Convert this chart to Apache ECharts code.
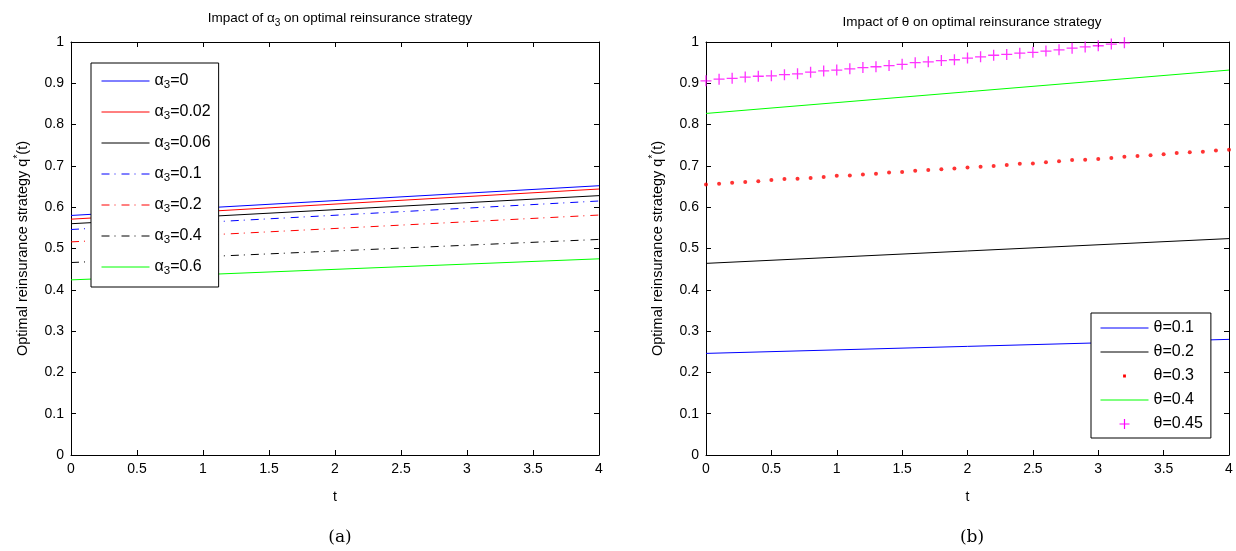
<!DOCTYPE html>
<html>
<head>
<meta charset="utf-8">
<script src="https://cdn.jsdelivr.net/npm/echarts@6/dist/echarts.min.js"></script>
<style>html,body{margin:0;padding:0;background:#fff}#c{width:1236px;height:551px}</style>
</head>
<body>
<div id="c"></div>
<script>
// ---- data ----
const tEnds = [0, 4];
const alphaNames = ['α{sub|3}=0', 'α{sub|3}=0.02', 'α{sub|3}=0.06', 'α{sub|3}=0.1', 'α{sub|3}=0.2', 'α{sub|3}=0.4', 'α{sub|3}=0.6'];
const alpha0   = [0.580, 0.652];
const alpha002 = [0.571, 0.644];
const alpha006 = [0.560, 0.628];
const alpha01  = [0.546, 0.615];
const alpha02  = [0.516, 0.581];
const alpha04  = [0.466, 0.522];
const alpha06  = [0.424, 0.475];

const thetaNames = ['θ=0.1', 'θ=0.2', 'θ=0.3', 'θ=0.4', 'θ=0.45'];
const theta01 = [0.246, 0.280];
const theta02 = [0.464, 0.524];
const theta04 = [0.827, 0.932];
const tDots = [0,0.1,0.2,0.3,0.4,0.5,0.6,0.7,0.8,0.9,1,1.1,1.2,1.3,1.4,1.5,1.6,1.7,1.8,1.9,2,
  2.1,2.2,2.3,2.4,2.5,2.6,2.7,2.8,2.9,3,3.1,3.2,3.3,3.4,3.5,3.6,3.7,3.8,3.9,4];
const theta03 = [0.655,0.657,0.659,0.661,0.663,0.666,0.668,0.669,0.671,0.673,0.676,0.677,0.679,0.681,0.684,0.685,0.688,0.690,0.692,0.694,0.696,
  0.698,0.700,0.702,0.705,0.706,0.709,0.711,0.714,0.715,0.717,0.719,0.722,0.724,0.726,0.728,0.731,0.733,0.734,0.737,0.739];
const tCross = [0,0.1,0.2,0.3,0.4,0.5,0.6,0.7,0.8,0.9,1,1.1,1.2,1.3,1.4,1.5,1.6,1.7,1.8,1.9,2,2.1,2.2,2.3,2.4,2.5,2.6,2.7,2.8,2.9,3,3.1,3.2];
const theta045 = [0.906,0.910,0.912,0.915,0.917,0.918,0.921,0.923,0.927,0.930,0.932,0.935,0.938,0.940,0.943,0.946,
  0.950,0.952,0.955,0.957,0.961,0.964,0.968,0.970,0.973,0.975,0.978,0.981,0.985,0.988,0.991,0.995,0.998];
const xTicks = {min: 0, max: 4, interval: 0.5};
const yTicks = {min: 0, max: 1, interval: 0.1};

// ---- helpers ----
const FONT = 'Liberation Sans';
const pair = (xs, ys) => xs.map((x, i) => [x, ys[i]]);
const DASHDOT = [8, 5, 1, 6];
const CROSS = 'path://M4.4,0H5.6V4.4H10V5.6H5.6V10H4.4V5.6H0V4.4H4.4Z';
const DOT_ICON = 'path://M0,0L0.01,0L0,0.01Z M48,14L47.99,14L48,13.99Z M22.6,5.6H25.4V8.4H22.6Z';
const CROSS_ICON = 'path://M0,0L0.01,0L0,0.01Z M48,14L47.99,14L48,13.99Z M23.4,2H24.6V6.4H29V7.6H24.6V12H23.4V7.6H19V6.4H23.4Z';

function xAx(grid, pos) {
  const bottom = pos === 'bottom';
  return Object.assign({
    type: 'value', gridIndex: grid, position: pos,
    name: bottom ? 't' : '', nameLocation: 'middle', nameGap: 35,
    nameTextStyle: {fontFamily: FONT, fontSize: 14, color: '#000'},
    axisLine: {show: true, onZero: false, lineStyle: {color: '#000', width: 1}},
    axisTick: {show: true, inside: true, length: 5, lineStyle: {color: '#000'}},
    axisLabel: {show: bottom, fontFamily: FONT, fontSize: 14, color: '#000', margin: 7},
    splitLine: {show: false}
  }, xTicks);
}
function yAx(grid, pos) {
  const left = pos === 'left';
  return Object.assign({
    type: 'value', gridIndex: grid, position: pos,
    name: left ? 'Optimal reinsurance strategy q{sup|*}(t)' : '', nameLocation: 'middle', nameGap: 38, nameRotate: 90,
    nameTextStyle: {fontFamily: FONT, fontSize: 14.5, color: '#000', lineHeight: 20,
      rich: {sup: {fontFamily: FONT, fontSize: 10, lineHeight: 8, verticalAlign: 'top', color: '#000'}}},
    axisLine: {show: true, onZero: false, lineStyle: {color: '#000', width: 1}},
    axisTick: {show: true, inside: true, length: 5, lineStyle: {color: '#000'}},
    axisLabel: {show: left, fontFamily: FONT, fontSize: 14, color: '#000', margin: 7},
    splitLine: {show: false}
  }, yTicks);
}
function lineS(name, data, color, type, xi, yi) {
  return {type: 'line', name: name, xAxisIndex: xi, yAxisIndex: yi, data: pair(tEnds, data),
    symbol: 'none', showSymbol: false, silent: true, animation: false,
    lineStyle: {color: color, width: 1, type: type}, itemStyle: {color: color}};
}

const subRich = {sub: {fontFamily: FONT, fontSize: 11.5, lineHeight: 8, verticalAlign: 'bottom', color: '#000'}};

const option = {
  animation: false,
  backgroundColor: '#fff',
  title: [
    {text: 'Impact of α{sub|3} on optimal reinsurance strategy', left: 335, top: 3, textAlign: 'center',
      textStyle: {fontFamily: FONT, fontSize: 13.5, fontWeight: 'normal', color: '#000', lineHeight: 20,
        rich: {sub: {fontFamily: FONT, fontSize: 10, lineHeight: 8, verticalAlign: 'bottom', color: '#000'}}}},
    {text: 'Impact of θ on optimal reinsurance strategy', left: 967, top: 9, textAlign: 'center',
      textStyle: {fontFamily: FONT, fontSize: 13.5, fontWeight: 'normal', color: '#000', lineHeight: 16}},
    {text: '(a)', left: 335, top: 524, textAlign: 'center',
      textStyle: {fontFamily: 'DejaVu Serif', fontSize: 17, fontWeight: 'normal', color: '#000'}},
    {text: '(b)', left: 967, top: 524, textAlign: 'center',
      textStyle: {fontFamily: 'DejaVu Serif', fontSize: 17, fontWeight: 'normal', color: '#000'}}
  ],
  grid: [
    {left: 71, right: 637, top: 42, bottom: 96},
    {left: 706, right: 7, top: 42, bottom: 96}
  ],
  xAxis: [xAx(0, 'bottom'), xAx(0, 'top'), xAx(1, 'bottom'), xAx(1, 'top')],
  yAxis: [yAx(0, 'left'), yAx(0, 'right'), yAx(1, 'left'), yAx(1, 'right')],
  legend: [
    {orient: 'vertical', left: 91, top: 63, itemWidth: 48, itemHeight: 14, itemGap: 11,
      padding: [8, 8, 10, 10], borderColor: '#000', borderWidth: 1, backgroundColor: '#fff',
      selectedMode: false, data: alphaNames, itemStyle: {opacity: 0}, lineStyle: {width: 1},
      textStyle: {fontFamily: FONT, fontSize: 16, color: '#000', lineHeight: 20, rich: subRich}},
    {orient: 'vertical', left: 1091, top: 313, itemWidth: 48, itemHeight: 14, itemGap: 6,
      padding: [6, 8, 5, 9], borderColor: '#000', borderWidth: 1, backgroundColor: '#fff',
      selectedMode: false, itemStyle: {opacity: 0}, lineStyle: {width: 1},
      data: [
        {name: thetaNames[0]}, {name: thetaNames[1]},
        {name: thetaNames[2], icon: DOT_ICON, itemStyle: {color: '#ff0000', borderWidth: 0, opacity: 1}},
        {name: thetaNames[3]},
        {name: thetaNames[4], icon: CROSS_ICON, itemStyle: {color: '#ff00ff', borderWidth: 0, opacity: 1}}
      ],
      textStyle: {fontFamily: FONT, fontSize: 16, color: '#000', lineHeight: 18}}
  ],
  series: [
    lineS(alphaNames[0], alpha0, '#0000ff', 'solid', 0, 0),
    lineS(alphaNames[1], alpha002, '#ff0000', 'solid', 0, 0),
    lineS(alphaNames[2], alpha006, '#000000', 'solid', 0, 0),
    lineS(alphaNames[3], alpha01, '#0000ff', DASHDOT, 0, 0),
    lineS(alphaNames[4], alpha02, '#ff0000', DASHDOT, 0, 0),
    lineS(alphaNames[5], alpha04, '#000000', DASHDOT, 0, 0),
    lineS(alphaNames[6], alpha06, '#00ff00', 'solid', 0, 0),
    lineS(thetaNames[0], theta01, '#0000ff', 'solid', 2, 2),
    lineS(thetaNames[1], theta02, '#000000', 'solid', 2, 2),
    {type: 'scatter', name: thetaNames[2], xAxisIndex: 2, yAxisIndex: 2, data: pair(tDots, theta03),
      symbol: 'circle', symbolSize: 4, silent: true, itemStyle: {color: '#ff0000'}},
    lineS(thetaNames[3], theta04, '#00ff00', 'solid', 2, 2),
    {type: 'scatter', name: thetaNames[4], xAxisIndex: 2, yAxisIndex: 2, data: pair(tCross, theta045),
      symbol: CROSS, symbolSize: 11, silent: true, itemStyle: {color: '#ff00ff'}}
  ]
};
const chart = echarts.init(document.getElementById('c'), null, {renderer: 'canvas'});
chart.setOption(option);
</script>
</body>
</html>
